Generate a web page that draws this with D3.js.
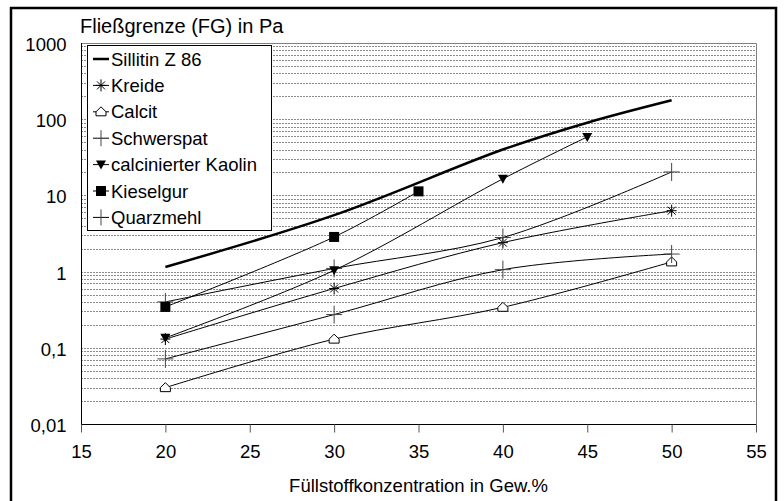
<!DOCTYPE html>
<html>
<head>
<meta charset="utf-8">
<script src="https://cdn.jsdelivr.net/npm/d3@7"></script>
<style>
  body { margin: 0; background: #fff; }
  text { font-family: "Liberation Sans", Arial, sans-serif; fill: #000; }
</style>
</head>
<body>
<svg id="chart"></svg>
<script>
const xTicks = [15, 20, 25, 30, 35, 40, 45, 50, 55];
const yTicks = [0.01, 0.1, 1, 10, 100, 1000];
const yTickLabels = ["0,01", "0,1", "1", "10", "100", "1000"];

const sillitinX = [20, 30, 40, 45, 50];
const sillitinY = [1.15, 5.5, 40, 90, 177];
const kreideX = [20, 30, 40, 50];
const kreideY = [0.13, 0.6, 2.4, 6.3];
const calcitX = [20, 30, 40, 50];
const calcitY = [0.03, 0.13, 0.34, 1.34];
const schwerspatX = [20, 30, 40, 50];
const schwerspatY = [0.4, 1.1, 2.8, 20.3];
const kaolinX = [20, 30, 40, 45];
const kaolinY = [0.135, 1.04, 16.5, 58.6];
const kieselgurX = [20, 30, 35];
const kieselgurY = [0.344, 2.85, 11.3];
const quarzX = [20, 30, 40, 50];
const quarzY = [0.0715, 0.273, 1.06, 1.7];

const seriesNames = ["Sillitin Z 86", "Kreide", "Calcit", "Schwerspat", "calcinierter Kaolin", "Kieselgur", "Quarzmehl"];

const series = [
  { name: seriesNames[0], xs: sillitinX, ys: sillitinY, marker: "none", width: 2.5 },
  { name: seriesNames[1], xs: kreideX, ys: kreideY, marker: "star", width: 1 },
  { name: seriesNames[2], xs: calcitX, ys: calcitY, marker: "house", width: 1 },
  { name: seriesNames[3], xs: schwerspatX, ys: schwerspatY, marker: "plus", width: 1 },
  { name: seriesNames[4], xs: kaolinX, ys: kaolinY, marker: "tri", width: 1 },
  { name: seriesNames[5], xs: kieselgurX, ys: kieselgurY, marker: "square", width: 1 },
  { name: seriesNames[6], xs: quarzX, ys: quarzY, marker: "plus", width: 1 }
];

const W = 784, H = 501;
const svg = d3.select("#chart").attr("width", W).attr("height", H);

// outer frame (bottom edge cut off)
svg.append("path").attr("d", `M11,${H + 2} L11,8 L776,8 L776,${H + 2}`)
  .attr("fill", "none").attr("stroke", "#000").attr("stroke-width", 2.5);

const pLeft = 81, pRight = 756, pTop = 43, pBottom = 424;
const x = d3.scaleLinear().domain([15, 55]).range([pLeft, pRight]);
const y = d3.scaleLog().domain([0.01, 1000]).range([pBottom, pTop]);

// gridlines on every 1..9 of each decade
const gridVals = [];
for (let e = -2; e < 3; e++) {
  for (let m = 1; m <= 9; m++) gridVals.push(m * Math.pow(10, e));
}
svg.append("g").selectAll("line").data(gridVals.filter(v => v > 0.01 && v < 1000)).join("line")
  .attr("x1", pLeft).attr("x2", pRight)
  .attr("y1", d => Math.round(y(d)) + 0.5).attr("y2", d => Math.round(y(d)) + 0.5)
  .attr("stroke", "#8a8a8a").attr("stroke-width", 1).attr("stroke-dasharray", "2,1");

// plot border top/right gray
svg.append("path").attr("d", `M${pLeft},${pTop + 0.5} L${pRight + 0.5},${pTop + 0.5} L${pRight + 0.5},${pBottom}`)
  .attr("fill", "none").attr("stroke", "#808080").attr("stroke-width", 1);

// x axis
const xAxis = svg.append("g").attr("transform", `translate(0,${pBottom + 0.5})`)
  .call(d3.axisBottom(x).tickValues(xTicks).tickSize(8).tickPadding(12).tickFormat(d3.format("d")));
xAxis.select(".domain").attr("stroke", "#000").attr("d", `M${pLeft},0H${pRight + 0.5}`);
xAxis.selectAll(".tick line").attr("stroke", "#555");
xAxis.selectAll("text").attr("font-size", 18.5).attr("fill", "#000");

// y axis
const yAxis = svg.append("g").attr("transform", `translate(${pLeft + 0.5},0)`)
  .call(d3.axisLeft(y).tickValues(yTicks).tickSize(0).tickPadding(15)
    .tickFormat((d, i) => yTickLabels[i]));
yAxis.select(".domain").attr("stroke", "#000").attr("d", `M0,${pTop}V${pBottom}`);
yAxis.selectAll("text").attr("font-size", 18.5).attr("fill", "#000").attr("dy", "0.4em");

// lines
const line = d3.line().x(d => x(d[0])).y(d => y(d[1])).curve(d3.curveCatmullRom.alpha(0.5));

function drawMarker(g, type, cx, cy) {
  if (type === "star") {
    g.append("path").attr("d", `M${cx - 5},${cy}H${cx + 5}M${cx - 4},${cy - 4}L${cx + 4},${cy + 4}M${cx + 4},${cy - 4}L${cx - 4},${cy + 4}M${cx},${cy - 6}V${cy + 6}`)
      .attr("stroke", "#000").attr("stroke-width", 1).attr("fill", "none");
  } else if (type === "house") {
    g.append("path").attr("d", `M${cx - 5},${cy + 4}V${cy}L${cx},${cy - 5}L${cx + 5},${cy}V${cy + 4}Z`)
      .attr("stroke", "#000").attr("stroke-width", 1).attr("fill", "#fff");
  } else if (type === "plus") {
    g.append("path").attr("d", `M${cx - 8},${cy}H${cx + 8}M${cx},${cy - 9}V${cy + 9}`)
      .attr("stroke", "#444").attr("stroke-width", 1).attr("fill", "none");
  } else if (type === "tri") {
    g.append("path").attr("d", `M${cx - 5},${cy - 4}H${cx + 5}L${cx},${cy + 5}Z`)
      .attr("fill", "#000");
  } else if (type === "square") {
    g.append("rect").attr("x", cx - 5).attr("y", cy - 5).attr("width", 10).attr("height", 10)
      .attr("fill", "#000");
  }
}

series.forEach(s => {
  const pts = s.xs.map((v, i) => [v, s.ys[i]]);
  const g = svg.append("g");
  g.append("path").datum(pts).attr("d", line)
    .attr("fill", "none").attr("stroke", "#000").attr("stroke-width", s.width);
  pts.forEach(p => drawMarker(g, s.marker, x(p[0]), y(p[1])));
});

// legend
const lg = svg.append("g");
lg.append("rect").attr("x", 87.5).attr("y", 45.5).attr("width", 184).attr("height", 185)
  .attr("fill", "#fff").attr("stroke", "#000").attr("stroke-width", 1);
series.forEach((s, i) => {
  const cy = 59 + i * 26.4;
  lg.append("line").attr("x1", 93).attr("x2", 109).attr("y1", cy).attr("y2", cy)
    .attr("stroke", "#000").attr("stroke-width", s.width);
  if (s.marker === "plus") {
    lg.append("line").attr("x1", 101).attr("x2", 101).attr("y1", cy - 8).attr("y2", cy + 8)
      .attr("stroke", "#444");
  } else {
    drawMarker(lg, s.marker, 101, cy);
  }
  lg.append("text").attr("x", 111).attr("y", cy + 6.5).attr("font-size", 18.5).text(s.name);
});

// titles
svg.append("text").attr("x", 80).attr("y", 33).attr("font-size", 20).text("Fließgrenze (FG) in Pa");
svg.append("text").attr("x", (pLeft + pRight) / 2).attr("y", 492).attr("text-anchor", "middle")
  .attr("font-size", 18.5).text("Füllstoffkonzentration in Gew.%");
</script>
</body>
</html>
